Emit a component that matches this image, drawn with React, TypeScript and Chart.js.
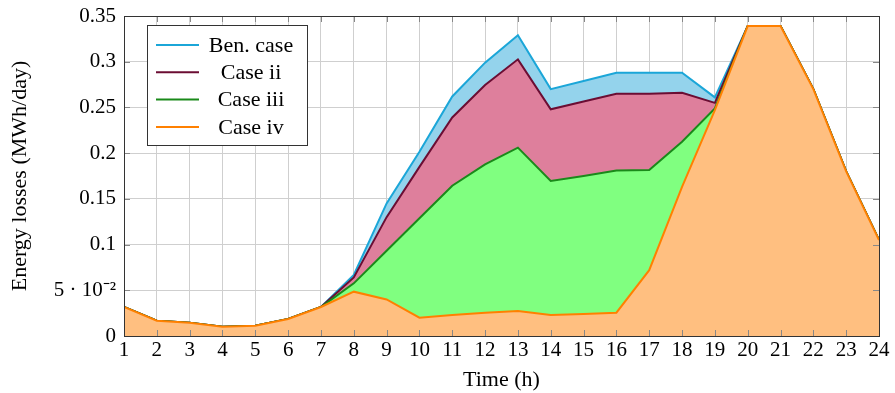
import React, { useEffect, useRef } from "react";
import { Chart, registerables } from "chart.js";

Chart.register(...registerables);

const hours = [1, 2, 3, 4, 5, 6, 7, 8, 9, 10, 11, 12, 13, 14, 15, 16, 17, 18, 19, 20, 21, 22, 23, 24];
const benCase = [0.0317, 0.0168, 0.0146, 0.0102, 0.0113, 0.0186, 0.0317, 0.0667, 0.145, 0.2016, 0.262, 0.299, 0.329, 0.270, 0.279, 0.288, 0.288, 0.288, 0.261, 0.339, 0.339, 0.270, 0.180, 0.105];
const caseII = [0.0317, 0.0168, 0.0146, 0.0102, 0.0113, 0.0186, 0.0317, 0.064, 0.130, 0.185, 0.239, 0.2745, 0.3026, 0.248, 0.2565, 0.265, 0.265, 0.266, 0.255, 0.339, 0.339, 0.270, 0.180, 0.105];
const caseIII = [0.0317, 0.0168, 0.0146, 0.0102, 0.0113, 0.0186, 0.0317, 0.0576, 0.0933, 0.1287, 0.1644, 0.1878, 0.206, 0.1695, 0.175, 0.181, 0.1815, 0.2125, 0.249, 0.339, 0.339, 0.270, 0.180, 0.105];
const caseIV = [0.0317, 0.0168, 0.0146, 0.0102, 0.0113, 0.0186, 0.0317, 0.0485, 0.040, 0.020, 0.023, 0.0255, 0.0273, 0.023, 0.024, 0.0255, 0.072, 0.163, 0.247, 0.339, 0.339, 0.270, 0.180, 0.105];

const seriesNames = ["Ben. case", "Case ii", "Case iii", "Case iv"];
const lineColors = ["#1ba6d8", "#6b0d33", "#1a8a1a", "#ff8000"];
const fillColors = ["#94d3ec", "#de7f9c", "#80ff80", "#ffbf80"];
const yTicks = [0, 0.05, 0.1, 0.15, 0.2, 0.25, 0.3, 0.35];
const yTickLabels = ["0", "5 · 10⁻²", "0.1", "0.15", "0.2", "0.25", "0.3", "0.35"];

const FONT = "'Liberation Serif', 'Times New Roman', serif";

const framePlugin = {
  id: "frame",
  afterDatasetsDraw(chart: any) {
    const { ctx, chartArea: a, scales } = chart;
    ctx.save();
    ctx.strokeStyle = "#888";
    ctx.lineWidth = 1;
    ctx.beginPath();
    yTicks.forEach((v) => {
      const y = Math.round(scales.y.getPixelForValue(v)) + 0.5;
      ctx.moveTo(a.left, y);
      ctx.lineTo(a.left + 6, y);
      ctx.moveTo(a.right, y);
      ctx.lineTo(a.right - 6, y);
    });
    hours.forEach((h) => {
      const x = Math.round(scales.x.getPixelForValue(h)) + 0.5;
      ctx.moveTo(x, a.bottom);
      ctx.lineTo(x, a.bottom - 6);
      ctx.moveTo(x, a.top);
      ctx.lineTo(x, a.top + 6);
    });
    ctx.stroke();
    ctx.strokeStyle = "#333";
    ctx.lineWidth = 1;
    ctx.strokeRect(Math.round(a.left) + 0.5, Math.round(a.top) + 0.5, Math.round(a.right - a.left), Math.round(a.bottom - a.top));
    ctx.restore();
  },
};

const legendPlugin = {
  id: "boxLegend",
  afterDraw(chart: any) {
    const { ctx } = chart;
    const x0 = 147, y0 = 25, w = 160, h = 120;
    ctx.save();
    ctx.fillStyle = "#fff";
    ctx.fillRect(x0, y0, w, h);
    ctx.strokeStyle = "#333";
    ctx.lineWidth = 1;
    ctx.strokeRect(x0 + 0.5, y0 + 0.5, w, h);
    ctx.font = `22px ${FONT}`;
    ctx.textAlign = "center";
    ctx.textBaseline = "middle";
    seriesNames.forEach((name, i) => {
      const y = 45 + i * 27.3;
      ctx.strokeStyle = lineColors[i];
      ctx.lineWidth = 2;
      ctx.beginPath();
      ctx.moveTo(156, y);
      ctx.lineTo(199, y);
      ctx.stroke();
      ctx.fillStyle = "#000";
      ctx.fillText(name, 251, y + 1);
    });
    ctx.restore();
  },
};

export default function App() {
  const ref = useRef<HTMLCanvasElement>(null);
  useEffect(() => {
    const series = [benCase, caseII, caseIII, caseIV];
    const datasets = series.map((vals, i) => ({
      label: seriesNames[i],
      data: hours.map((h, j) => ({ x: h, y: vals[j] })),
      borderColor: lineColors[i],
      backgroundColor: fillColors[i],
      borderWidth: 2,
      pointRadius: 0,
      tension: 0,
      fill: "origin",
      order: 4 - i,
    }));
    const chart = new Chart(ref.current as HTMLCanvasElement, {
      type: "line",
      data: { datasets },
      options: {
        animation: false,
        responsive: false,
        devicePixelRatio: 1,
        layout: { padding: { top: 16, right: 16, left: 0, bottom: 0 } },
        plugins: { legend: { display: false }, tooltip: { enabled: false } },
        scales: {
          x: {
            type: "linear",
            min: 1,
            max: 24,
            afterFit(scale: any) {
              scale.height = 57;
              scale.paddingLeft = 0;
              scale.paddingRight = 0;
            },
            afterBuildTicks(scale: any) {
              scale.ticks = hours.map((h) => ({ value: h }));
            },
            ticks: {
              color: "#000",
              font: { family: FONT, size: 21 },
              padding: 2,
              maxRotation: 0,
              autoSkip: false,
              callback: (v: any) => String(v),
            },
            grid: { color: "#cfcfcf", lineWidth: 1, drawTicks: false },
            border: { display: false },
            title: {
              display: true,
              text: "Time (h)",
              color: "#000",
              font: { family: FONT, size: 22 },
              padding: { top: 0, bottom: 0 },
            },
          },
          y: {
            min: 0,
            max: 0.35,
            afterFit(scale: any) {
              scale.width = 124;
              scale.paddingTop = 0;
              scale.paddingBottom = 0;
            },
            afterBuildTicks(scale: any) {
              scale.ticks = yTicks.map((v) => ({ value: v }));
            },
            ticks: {
              color: "#000",
              font: { family: FONT, size: 21 },
              padding: 8,
              callback: (v: any) => {
                const idx = yTicks.findIndex((t) => Math.abs(t - v) < 1e-9);
                return idx >= 0 ? yTickLabels[idx] : "";
              },
            },
            grid: { color: "#cfcfcf", lineWidth: 1, drawTicks: false },
            border: { display: false },
            title: {
              display: true,
              text: "Energy losses (MWh/day)",
              color: "#000",
              font: { family: FONT, size: 22 },
              padding: { top: 7, bottom: 0 },
            },
          },
        },
      },
      plugins: [framePlugin, legendPlugin],
    });
    return () => chart.destroy();
  }, []);
  return (
    <div style={{ position: "fixed", left: 0, top: 0, width: 895, height: 393, background: "#fff" }}>
      <canvas ref={ref} width={895} height={393} style={{ width: 895, height: 393, display: "block" }} />
    </div>
  );
}
